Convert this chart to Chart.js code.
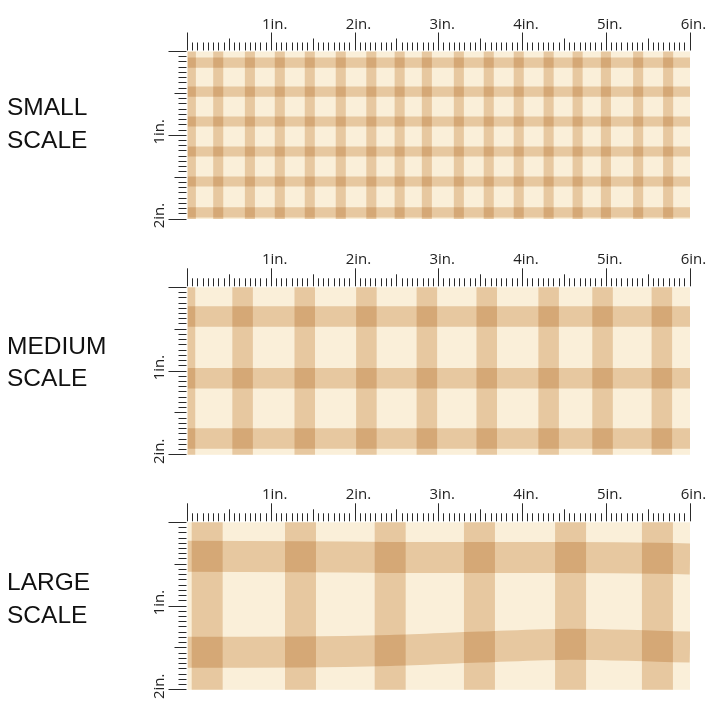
<!DOCTYPE html>
<html><head><meta charset="utf-8">
<script src="https://cdn.jsdelivr.net/npm/chart.js@4.4.1/dist/chart.umd.min.js"></script>
<style>
html,body{margin:0;padding:0;background:#fff;width:720px;height:720px;overflow:hidden;}
.wrap{position:relative;width:720px;height:720px;}
canvas{position:absolute;left:0;}
.lbl{position:absolute;left:7px;font-family:"Liberation Sans",Arial,sans-serif;font-size:24.5px;line-height:32.5px;color:#111;white-space:nowrap;}
</style></head><body>
<div class="wrap" id="wrap"></div>
<script>
// ---- data (inches) ----
const widthInches = 6, heightInches = 2;
const topTickLabels = ["1in.","2in.","3in.","4in.","5in.","6in."];
const sideTickLabels = ["1in.","2in."];
const scaleNames = ["SMALL SCALE","MEDIUM SCALE","LARGE SCALE"];

const smallCols = [0.04,0.367,0.745,1.102,1.460,1.830,2.195,2.533,2.858,3.240,3.597,3.955,4.312,4.658,4.996,5.381,5.739];
const smallRows = [0.133,0.479,0.837,1.195,1.552,1.921];
const smallStripe = 0.12;

const mediumCols = [-0.03,0.658,1.400,2.136,2.858,3.573,4.312,4.956,5.664];
const mediumRows = [0.350,1.085,1.805];
const mediumStripe = 0.245;

const largeCols = [0.235,1.349,2.420,3.486,4.574,5.611];
const largeRowX = [0,1.35,2.42,3.49,4.57,5.61,6];
const largeRows = [[0.405,0.41,0.42,0.42,0.42,0.43,0.437],[1.551,1.55,1.53,1.49,1.455,1.48,1.49]];
const largeStripe = 0.37;

// ---- layout / style ----
const panels = [
  {cols: smallCols, rows: smallRows, stripe: smallStripe, rowX: null, top: 0, padTop: 51.5, labelTop: 91},
  {cols: mediumCols, rows: mediumRows, stripe: mediumStripe, rowX: null, top: 235, padTop: 52.3, labelTop: 329.5},
  {cols: largeCols, rows: largeRows, stripe: largeStripe, rowX: largeRowX, top: 470, padTop: 52.3, labelTop: 566}
];
const CANVAS_H = 240;
const CREAM = '#FAEFD9';
const STRIPE = 'rgb(236,214,188)';
const INK = '#222';

const gingham = {
  id: 'gingham',
  beforeDatasetsDraw(chart) {
    const {ctx, chartArea: a} = chart;
    ctx.save();
    ctx.fillStyle = CREAM;
    ctx.fillRect(a.left, a.top, a.right - a.left, a.bottom - a.top);
    ctx.globalCompositeOperation = 'multiply';
  },
  afterDatasetsDraw(chart) { chart.ctx.restore(); },
  afterDraw(chart) {
    const {ctx, chartArea: a} = chart;
    const xs = chart.scales.x, ys = chart.scales.y;
    ctx.save();
    ctx.strokeStyle = '#2a2a2a';
    ctx.lineWidth = 1;
    ctx.beginPath();
    const tLen = i => (i % 16 === 0 ? 18 : (i % 8 === 0 ? 12 : 8));
    const yTop = a.top - 1;
    for (let i = 0; i <= widthInches * 16; i++) {
      const x = Math.floor(xs.getPixelForValue(i / 16)) + 0.5;
      ctx.moveTo(x, yTop);
      ctx.lineTo(x, yTop - tLen(i));
    }
    const xLeft = a.left - 1;
    for (let i = 0; i <= heightInches * 16; i++) {
      const y = Math.floor(ys.getPixelForValue(i / 16)) + 0.5;
      ctx.moveTo(xLeft, y);
      ctx.lineTo(xLeft - tLen(i), y);
    }
    ctx.stroke();
    ctx.fillStyle = INK;
    ctx.font = '15px "Open Sans", sans-serif';
    ctx.textAlign = 'center';
    ctx.textBaseline = 'alphabetic';
    topTickLabels.forEach((t, k) => {
      ctx.fillText(t, xs.getPixelForValue(k + 1) + 3.5, a.top - 23);
    });
    sideTickLabels.forEach((t, k) => {
      ctx.save();
      ctx.translate(a.left - 24, ys.getPixelForValue(k + 1) - 3.5);
      ctx.rotate(-Math.PI / 2);
      ctx.fillText(t, 0, 0);
      ctx.restore();
    });
    ctx.restore();
  }
};

function buildDatasets(p) {
  const ds = [];
  const bw = axis => (c => {
    const s = c.chart.scales[axis];
    return Math.abs(s.getPixelForValue(p.stripe) - s.getPixelForValue(0));
  });
  const common = {
    borderColor: STRIPE, pointRadius: 0, pointHoverRadius: 0, fill: false,
    borderCapStyle: 'butt', borderJoinStyle: 'round', clip: 0
  };
  p.rows.forEach(r => {
    const multi = Array.isArray(r);
    const data = multi ? r.map((y, i) => ({x: p.rowX[i], y})) : [{x: 0, y: r}, {x: widthInches, y: r}];
    ds.push(Object.assign({}, common, {data, borderWidth: bw('y'), tension: multi ? 0.35 : 0}));
  });
  p.cols.forEach(c => {
    ds.push(Object.assign({}, common, {data: [{x: c, y: 0}, {x: c, y: heightInches}], borderWidth: bw('x'), tension: 0}));
  });
  return ds;
}

const wrap = document.getElementById('wrap');
panels.forEach((p, idx) => {
  const cv = document.createElement('canvas');
  cv.width = 720; cv.height = CANVAS_H;
  cv.style.top = p.top + 'px';
  wrap.appendChild(cv);
  const lbl = document.createElement('div');
  lbl.className = 'lbl';
  lbl.style.top = p.labelTop + 'px';
  lbl.innerHTML = scaleNames[idx].split(' ').join('<br>');
  wrap.appendChild(lbl);
  new Chart(cv, {
    type: 'line',
    data: {datasets: buildDatasets(p)},
    options: {
      responsive: false, animation: false, events: [],
      devicePixelRatio: 1,
      layout: {padding: {left: 187.5, right: 30, top: p.padTop, bottom: CANVAS_H - p.padTop - 167.5}},
      plugins: {legend: {display: false}, tooltip: {enabled: false}},
      scales: {
        x: {type: 'linear', min: 0, max: widthInches, display: false},
        y: {type: 'linear', min: 0, max: heightInches, reverse: true, display: false}
      }
    },
    plugins: [gingham]
  });
});
</script>
</body></html>
